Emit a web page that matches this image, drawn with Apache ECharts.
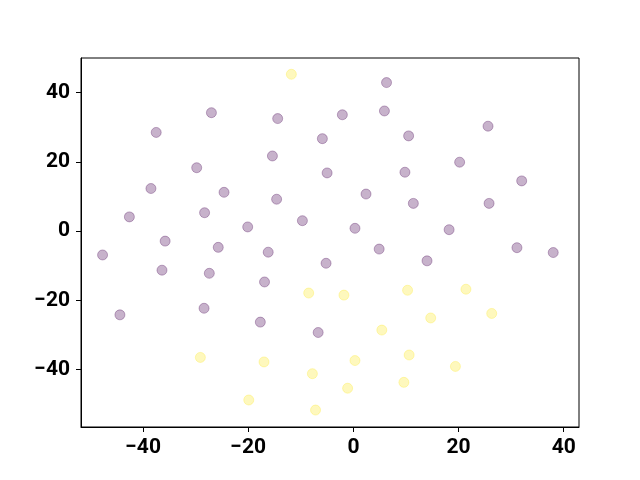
<!DOCTYPE html>
<html><head><meta charset="utf-8">
<script src="https://cdn.jsdelivr.net/npm/echarts@6/dist/echarts.min.js"></script>
<style>html,body{margin:0;padding:0;background:#fff}#c{width:640px;height:480px}</style>
</head><body><div id="c"></div>
<script>
const xTicks = [-40, -20, 0, 20, 40];
const yTicks = [-40, -20, 0, 20, 40];
const class0 = [
  [6.3, 42.9], [5.9, 34.7], [-2.1, 33.6], [-14.4, 32.5], [-27.0, 34.2], [-37.5, 28.5],
  [-5.9, 26.7], [10.5, 27.5], [25.6, 30.3], [-15.4, 21.7], [-29.8, 18.3], [-5.0, 16.8],
  [9.8, 17.0], [20.2, 19.9], [32.0, 14.5], [-38.5, 12.3], [-24.6, 11.2], [2.4, 10.7],
  [-14.6, 9.2], [11.4, 8.0], [25.8, 8.0], [-42.6, 4.1], [-28.3, 5.3], [-9.7, 3.0],
  [-20.1, 1.2], [0.3, 0.8], [18.2, 0.4], [-35.8, -2.9], [-25.7, -4.7], [-16.2, -6.1],
  [4.9, -5.2], [-47.7, -6.9], [31.1, -4.8], [38.0, -6.2], [-5.2, -9.3], [14.0, -8.6],
  [-36.4, -11.3], [-27.4, -12.2], [-16.9, -14.7], [-44.4, -24.2], [-28.4, -22.3],
  [-17.7, -26.3], [-6.7, -29.3]
];
const class1 = [
  [-11.8, 45.3], [-8.5, -17.9], [-1.8, -18.5], [10.3, -17.1], [21.4, -16.8], [14.7, -25.1],
  [26.3, -23.8], [5.4, -28.6], [-29.1, -36.5], [-17.0, -37.8], [-7.8, -41.2], [0.3, -37.4],
  [10.6, -35.8], [19.4, -39.1], [-1.1, -45.4], [9.6, -43.7], [-19.9, -48.8], [-7.2, -51.7]
];
const chart = echarts.init(document.getElementById('c'), null, {renderer: 'canvas'});
const fmt = v => String(v).replace('-', '\u2212');
const labelStyle = {fontFamily: 'Roboto', fontWeight: 'bold', fontSize: 21, color: '#000'};
chart.setOption({
  animation: false,
  backgroundColor: '#fff',
  grid: {left: 81, right: 61, top: 58, bottom: 53, show: true, borderColor: '#000', borderWidth: 1, containLabel: false},
  xAxis: {
    type: 'value', min: -51.8, max: 42.9,
    splitLine: {show: false},
    axisLine: {show: true, onZero: false, lineStyle: {color: '#000', width: 1}},
    axisTick: {show: true, length: 5, customValues: xTicks, lineStyle: {color: '#000'}},
    axisLabel: {...labelStyle, margin: 10, customValues: xTicks, formatter: fmt}
  },
  yAxis: {
    type: 'value', min: -56.6, max: 50.0,
    splitLine: {show: false},
    axisLine: {show: true, onZero: false, lineStyle: {color: '#000', width: 1}},
    axisTick: {show: true, length: 5, customValues: yTicks, lineStyle: {color: '#000'}},
    axisLabel: {...labelStyle, margin: 11, customValues: yTicks, formatter: fmt}
  },
  series: [
    {type: 'scatter', data: class0, symbolSize: 10,
     itemStyle: {color: '#440154', borderColor: '#440154', borderWidth: 1, opacity: 0.3}},
    {type: 'scatter', data: class1, symbolSize: 10,
     itemStyle: {color: '#fde725', borderColor: '#fde725', borderWidth: 1, opacity: 0.3}}
  ]
});
</script></body></html>
